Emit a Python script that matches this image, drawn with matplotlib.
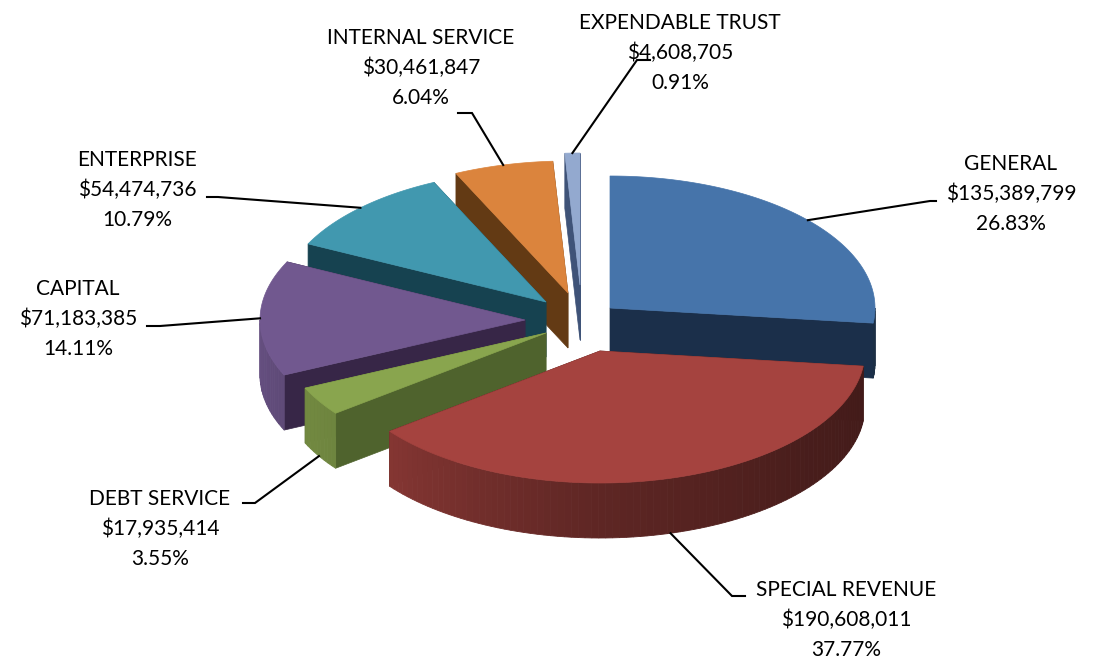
import numpy as np
import matplotlib
matplotlib.use('Agg')
import matplotlib.pyplot as plt
from matplotlib.colors import to_rgb

plt.rcParams['font.family'] = ['Lato', 'DejaVu Sans']

# Fondos
fondos = ['GENERAL', 'SPECIAL REVENUE', 'DEBT SERVICE', 'CAPITAL', 'ENTERPRISE',
          'INTERNAL SERVICE', 'EXPENDABLE TRUST']
montos = [135389799, 190608011, 17935414, 71183385, 54474736, 30461847, 4608705]

colores = ['#4674AA', '#A5433F', '#89A54E', '#71588F', '#4198AF', '#DB843D', '#93A9CF']
colores_pared = ['#1B2F4A', '#3F1A16', '#4F632D', '#372647', '#164250', '#633A14', '#3F5378']

# vertice de cada porcion una vez separada, en pixeles
vertices = [(610, 308), (600, 351), (546, 333), (525, 320), (546, 302), (568, 293), (580, 285)]
# codo de la linea guia y fin de la linea
codos = [(930, 201), (732, 596), (255, 503), (160, 326), (218, 197), (472, 113), (637, 60)]
finales = [(936, 201), (745, 596), (243, 503), (147, 326), (207, 197), (458, 113), (650, 60)]
# centro del texto
textos = [(1011, 194), (846, 620), (160, 529), (78, 319), (137, 190), (421, 68), (680, 53)]

RX = 265
RY = 132
ALTO = 55

# orden de dibujo, de atras hacia adelante
orden = [6, 5, 4, 3, 2, 0, 1]

total = sum(montos)
acum = np.cumsum([0] + montos) / total * 360


def punto(v, ang, dy=0):
    a = np.radians(ang)
    return v[0] + RX * np.sin(a), v[1] - RY * np.cos(a) + dy


def sombra(ang):
    # el borde se oscurece hacia la derecha
    return np.interp(ang, [90, 130, 180, 232, 270], [0.40, 0.44, 0.57, 0.80, 0.90])


fig = plt.figure(figsize=(10.94, 6.69), dpi=100)
ax = fig.add_axes([0, 0, 1, 1])
ax.set_xlim(0, 1094)
ax.set_ylim(669, 0)
ax.axis('off')

for i in orden:
    v = vertices[i]
    a0, a1 = acum[i], acum[i + 1]

    # paredes de corte
    for ang in (a0, a1):
        x, y = punto(v, ang)
        ax.fill([v[0], x, x, v[0]], [v[1], y, y + ALTO, v[1] + ALTO],
                color=colores_pared[i], lw=0.5, zorder=1)

    # borde exterior, solo la parte que mira al frente
    ini, fin = max(a0, 90), min(a1, 270)
    if fin > ini:
        angs = np.linspace(ini, fin, int((fin - ini) / 1.5) + 2)
        base = np.array(to_rgb(colores[i]))
        for b0, b1 in zip(angs[:-1], angs[1:]):
            x0, y0 = punto(v, b0)
            x1, y1 = punto(v, b1)
            c = tuple(base * sombra((b0 + b1) / 2))
            ax.fill([x0, x1, x1, x0], [y0, y1, y1 + ALTO, y0 + ALTO], color=c, lw=0.6, zorder=1)

    # cara superior
    angs = np.linspace(a0, a1, 120)
    xs, ys = punto(v, angs)
    ax.fill(np.r_[v[0], xs], np.r_[v[1], ys], color=colores[i], lw=0.5, zorder=1)

# lineas guia y etiquetas
for i in range(len(fondos)):
    v = vertices[i]
    medio = (acum[i] + acum[i + 1]) / 2
    frente = 90 < medio < 270
    x, y = punto(v, medio, ALTO if frente else 0)
    ax.plot([x, codos[i][0], finales[i][0]], [y, codos[i][1], finales[i][1]],
            color='black', lw=1.5, zorder=2, solid_joinstyle='miter')
    etiqueta = f'{fondos[i]}\n${montos[i]:,}\n{montos[i] / total:.2%}'
    ax.text(textos[i][0], textos[i][1], etiqueta, ha='center', va='center',
            fontsize=15, linespacing=1.62, color='black', zorder=3)

fig.savefig('out.png', dpi=100, facecolor='white')
